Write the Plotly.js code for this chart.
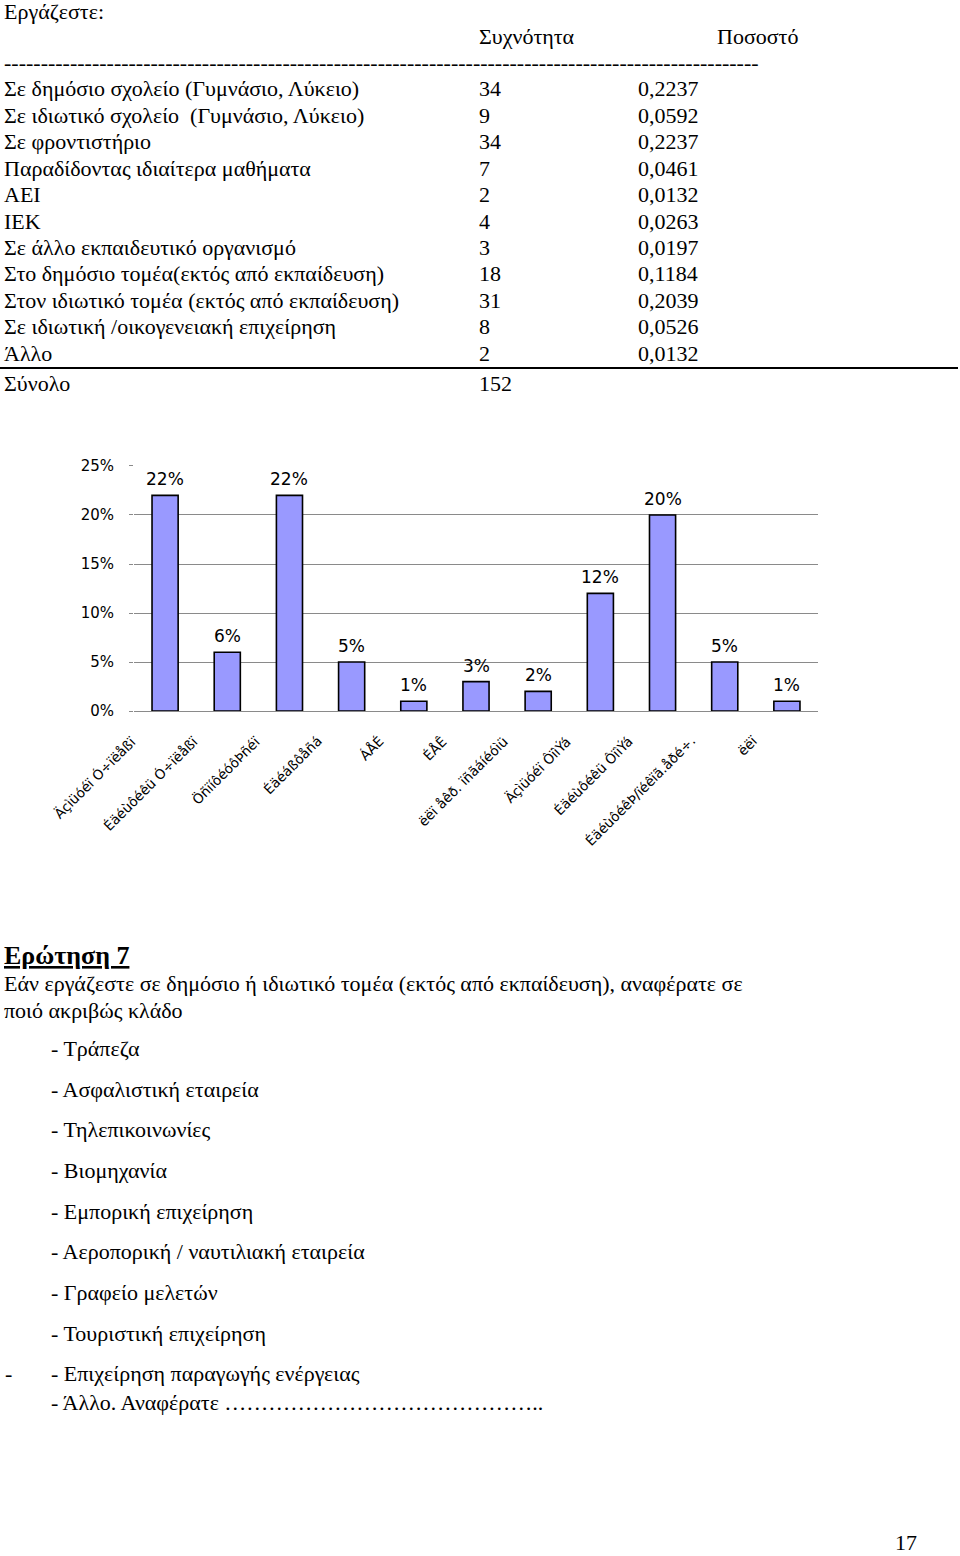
<!DOCTYPE html>
<html>
<head>
<meta charset="utf-8">
<script src="https://cdn.plot.ly/plotly-3.0.1.min.js"></script>
<style>
html, body { margin: 0; padding: 0; background: #ffffff; }
#chart { width: 960px; height: 1556px; }
</style>
</head>
<body>
<div id="chart"></div>
<script>
// ---------- DATA ----------
const headerTitle = 'Εργάζεστε:';
const columnHeaders = ['Συχνότητα', 'Ποσοστό'];
const workplaceLabels = [
  'Σε δημόσιο σχολείο (Γυμνάσιο, Λύκειο)',
  'Σε ιδιωτικό σχολείο  (Γυμνάσιο, Λύκειο)',
  'Σε φροντιστήριο',
  'Παραδίδοντας ιδιαίτερα μαθήματα',
  'ΑΕΙ',
  'ΙΕΚ',
  'Σε άλλο εκπαιδευτικό οργανισμό',
  'Στο δημόσιο τομέα(εκτός από εκπαίδευση)',
  'Στον ιδιωτικό τομέα (εκτός από εκπαίδευση)',
  'Σε ιδιωτική /οικογενειακή επιχείρηση',
  'Άλλο'
];
const frequencies = [34, 9, 34, 7, 2, 4, 3, 18, 31, 8, 2];
const proportions = [0.2237, 0.0592, 0.2237, 0.0461, 0.0132, 0.0263, 0.0197, 0.1184, 0.2039, 0.0526, 0.0132];
const totalLabel = 'Σύνολο';
const totalFrequency = 152;

const chartCategories = [
  'Äçìüóéï Ó÷ïëåßï',
  'Éäéùôéêü Ó÷ïëåßï',
  'ÖñïíôéóôÞñéï',
  'Éäéáßôåñá',
  'ÁÅÉ',
  'ÉÅÊ',
  'ëëï åêð. ïñãáíéóìü',
  'Äçìüóéï ÔïìÝá',
  'Éäéùôéêü ÔïìÝá',
  'ÉäéùôéêÞ/ïéêïã.åðé÷.',
  'ëëï'
];
const chartPercentages = [22, 6, 22, 5, 1, 3, 2, 12, 20, 5, 1];
const yTickValues = [0, 5, 10, 15, 20, 25];
const yTickLabels = ['0%', '5%', '10%', '15%', '20%', '25%'];

const questionTitle = 'Ερώτηση 7';
const questionLines = [
  'Εάν εργάζεστε σε δημόσιο ή ιδιωτικό τομέα (εκτός από εκπαίδευση), αναφέρατε σε',
  'ποιό ακριβώς κλάδο'
];
const branchOptions = [
  '- Τράπεζα',
  '- Ασφαλιστική εταιρεία',
  '- Τηλεπικοινωνίες',
  '- Βιομηχανία',
  '- Εμπορική επιχείρηση',
  '- Αεροπορική / ναυτιλιακή εταιρεία',
  '- Γραφείο μελετών',
  '- Τουριστική επιχείρηση',
  '- Επιχείρηση παραγωγής ενέργειας',
  '- Άλλο. Αναφέρατε ' + '…'.repeat(14) + '..'
];
const strayBullet = '-';
const pageNumber = '17';

// ---------- LAYOUT HELPERS ----------
const W = 960, H = 1556;
const px = x => x / W;
const py = y => 1 - y / H;
const SERIF = '"Liberation Serif", "Times New Roman", serif';
const SANS = '"DejaVu Sans", Arial, sans-serif';

function txt(x, y, text, opts) {
  return Object.assign({
    xref: 'paper', yref: 'paper', x: px(x), y: py(y),
    xanchor: 'left', yanchor: 'middle', showarrow: false,
    text: text, font: {family: SERIF, size: 22, color: '#000'}
  }, opts || {});
}

const annotations = [];
annotations.push(txt(2, 12, headerTitle));
annotations.push(txt(477, 37, columnHeaders[0]));
annotations.push(txt(715, 37, columnHeaders[1]));
annotations.push(txt(2, 63, '-'.repeat(103)));

const rowTop = 89, rowStep = 26.4;
workplaceLabels.forEach((lab, i) => {
  const y = rowTop + i * rowStep;
  annotations.push(txt(2, y, lab));
  annotations.push(txt(477, y, String(frequencies[i])));
  annotations.push(txt(636, y, proportions[i].toFixed(4).replace('.', ',')));
});
annotations.push(txt(2, 383, totalLabel));
annotations.push(txt(477, 383, String(totalFrequency)));

// chart value labels
chartPercentages.forEach((v, i) => {
  annotations.push({
    xref: 'x', yref: 'y', x: i, y: v, xanchor: 'center', yanchor: 'bottom',
    yshift: 4, showarrow: false, text: v + '%',
    font: {family: SANS, size: 17, color: '#000'}
  });
});
// chart category labels (rotated)
chartCategories.forEach((c, i) => {
  annotations.push({
    xref: 'x', yref: 'paper', x: i, y: py(730), xanchor: 'right', yanchor: 'top',
    xshift: -24, textangle: -45, showarrow: false, text: c,
    font: {family: SANS, size: 13.5, color: '#000'}
  });
});

// question block
annotations.push(txt(2, 955, '<b><u>' + questionTitle + '</u></b>', {font: {family: SERIF, size: 26, color: '#000'}}));
annotations.push(txt(2, 983, questionLines[0]));
annotations.push(txt(2, 1010, questionLines[1]));
const branchY = [1048, 1089, 1129, 1170, 1211, 1251, 1292, 1333, 1373, 1402];
branchOptions.forEach((b, i) => annotations.push(txt(49, branchY[i], b)));
annotations.push(txt(3, 1373, strayBullet));
annotations.push(txt(894, 1556, pageNumber, {yanchor: 'bottom', borderpad: 0}));

const trace = {
  type: 'bar',
  x: chartCategories.map((c, i) => i),
  y: chartPercentages,
  marker: {color: '#9999ff', line: {color: '#000000', width: 1.6}},
  width: 0.42,
  hoverinfo: 'skip'
};

const layout = {
  width: W, height: H,
  margin: {l: 0, r: 0, t: 0, b: 0},
  paper_bgcolor: '#ffffff', plot_bgcolor: '#ffffff',
  showlegend: false,
  xaxis: {
    domain: [px(134), px(818)], range: [-0.5, 10.5],
    showticklabels: false, ticks: '', showgrid: false, zeroline: false, showline: false, fixedrange: true
  },
  yaxis: {
    domain: [py(711), py(465.6)], range: [0, 25.04],
    tickvals: yTickValues, ticktext: yTickLabels,
    showgrid: true, gridcolor: '#8a8a8a', gridwidth: 1,
    zeroline: true, zerolinecolor: '#8a8a8a', zerolinewidth: 1,
    ticks: 'outside', ticklen: 4, tickcolor: '#8a8a8a', tickwidth: 1,
    showline: false, ticklabelstandoff: 12,
    tickfont: {family: SANS, size: 15, color: '#000'}, fixedrange: true
  },
  shapes: [{
    type: 'line', xref: 'paper', yref: 'paper',
    x0: 0, x1: px(958), y0: py(368), y1: py(368),
    line: {color: '#000', width: 2}
  }],
  annotations: annotations
};

Plotly.newPlot('chart', [trace], layout, {staticPlot: true, displayModeBar: false});
</script>
</body>
</html>
